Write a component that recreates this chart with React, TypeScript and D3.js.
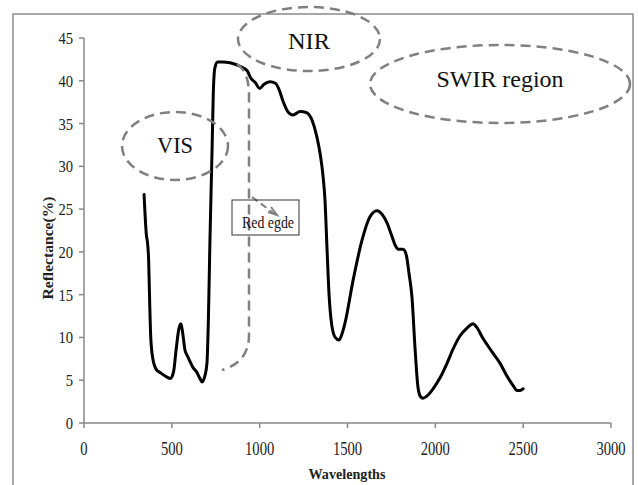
import React from "react";
import * as d3 from "d3";

const wavelengths = [342, 355, 362, 368, 374, 380, 392, 410, 440, 470, 492, 510, 524, 540, 552, 562, 575, 590, 603, 620, 640, 660, 672, 688, 700, 708, 717, 729, 736, 745, 760, 790, 831, 888, 928, 950, 975, 1000, 1025, 1059, 1090, 1110, 1133, 1160, 1190, 1230, 1265, 1300, 1325, 1344, 1360, 1372, 1383, 1395, 1410, 1430, 1452, 1470, 1486, 1532, 1583, 1628, 1668, 1700, 1725, 1750, 1771, 1790, 1816, 1835, 1850, 1867, 1884, 1901, 1915, 1930, 1960, 1987, 2030, 2067, 2100, 2141, 2180, 2215, 2235, 2271, 2320, 2368, 2410, 2442, 2465, 2482, 2500];
const reflectance = [26.7, 22, 21, 19, 14, 10, 7.5, 6.3, 5.8, 5.4, 5.2, 6, 8.5, 11, 11.6, 10.5, 8.5, 7.8, 7.2, 6.5, 6.0, 5.2, 4.8, 5.5, 7, 12, 21.4, 31.9, 38.5, 41.5, 42.2, 42.2, 42.1, 41.7, 41.2, 40.3, 39.8, 39.1, 39.6, 39.9, 39.7, 39.0, 37.6, 36.4, 36.0, 36.4, 36.3, 35.3, 33.5, 31.5, 29, 26, 20.6, 15, 11.5, 10.0, 9.7, 10.5, 11.7, 16.7, 21.4, 24.1, 24.8, 24.3, 23.4, 22, 20.8, 20.3, 20.3, 19.6, 17.5, 14.7, 8.9, 4.2, 3.1, 2.9, 3.3, 4.0, 5.4, 7.0, 8.6, 10.2, 11.1, 11.6, 11.2, 9.9, 8.4, 7.0, 5.4, 4.4, 3.8, 3.8, 4.0];
const xTicks = [0, 500, 1000, 1500, 2000, 2500, 3000];
const yTicks = [0, 5, 10, 15, 20, 25, 30, 35, 40, 45];
const xTitle = "Wavelengths";
const yTitle = "Reflectance(%)";
const regionLabels = ["VIS", "NIR", "SWIR region"];
const edgeLabel = "Red egde";

export default function App() {
  const W = 638, H = 485;
  const x = d3.scaleLinear().domain([0, 3000]).range([84, 611]);
  const y = d3.scaleLinear().domain([0, 45]).range([423, 38]);
  const pts: [number, number][] = wavelengths.map((w, i) => [w, reflectance[i]]);
  const line = d3.line<[number, number]>().x(d => x(d[0])).y(d => y(d[1])).curve(d3.curveMonotoneX);
  const axisColor = "#888";
  const dash = "#808080";
  const serif = "Liberation Serif, Times New Roman, serif";
  const ellipses = [
    { cx: 175, cy: 146, rx: 53, ry: 34, ty: 153, tl: 36 },
    { cx: 309, cy: 39, rx: 71, ry: 32, ty: 49, tl: 42 },
    { cx: 500, cy: 84, rx: 130, ry: 39, ty: 87, tl: 127 },
  ];
  const tf = { fontFamily: serif };
  return (
    <svg width={W} height={H} style={{ position: "absolute", left: 0, top: 0, background: "#fff", fontFamily: serif }}>
      <rect x={13} y={14} width={620} height={500} fill="#fff" stroke="#8a8a8a" strokeWidth={1.5} />
      {/* axes */}
      <line x1={x(0)} x2={x(0)} y1={y(45)} y2={y(0)} stroke={axisColor} strokeWidth={1.5} />
      <line x1={x(0)} x2={x(3000)} y1={y(0)} y2={y(0)} stroke={axisColor} strokeWidth={1.5} />
      {yTicks.map(t => (
        <g key={"y" + t}>
          <line x1={x(0) - 5} x2={x(0)} y1={y(t)} y2={y(t)} stroke={axisColor} strokeWidth={1.5} />
          <text x={73} y={y(t) + 6} textAnchor="end" fontSize={17} fill="#222" style={tf}
            textLength={String(t).length * 7.3} lengthAdjust="spacingAndGlyphs">{t}</text>
        </g>
      ))}
      {xTicks.map(t => (
        <g key={"x" + t}>
          <line x1={x(t)} x2={x(t)} y1={y(0)} y2={y(0) + 5} stroke={axisColor} strokeWidth={1.5} />
          <text x={x(t)} y={455} textAnchor="middle" fontSize={18.5} fill="#222" style={tf}
            textLength={String(t).length * 7.3} lengthAdjust="spacingAndGlyphs">{t}</text>
        </g>
      ))}
      <text x={347} y={479} textAnchor="middle" fontSize={15} fontWeight="bold" fill="#222" style={tf}
        textLength={77} lengthAdjust="spacingAndGlyphs">{xTitle}</text>
      <text transform="translate(53,248) rotate(-90)" textAnchor="middle" fontSize={15} fontWeight="bold" fill="#222" style={tf}
        textLength={103} lengthAdjust="spacingAndGlyphs">{yTitle}</text>
      {/* curve */}
      <path d={line(pts) || ""} fill="none" stroke="#000" strokeWidth={3} strokeLinejoin="round" strokeLinecap="round" />
      {/* region ellipses */}
      {ellipses.map((e, i) => (
        <g key={"e" + i}>
          <ellipse cx={e.cx} cy={e.cy} rx={e.rx} ry={e.ry} fill="none" stroke={dash} strokeWidth={2.5} strokeDasharray="10,6" />
          <text x={e.cx} y={e.ty} textAnchor="middle" fontSize={23} fill="#111" style={tf}
            textLength={e.tl} lengthAdjust="spacingAndGlyphs">{regionLabels[i]}</text>
        </g>
      ))}
      {/* red edge bracket */}
      <path d="M237,64 Q249,72 249,95 L249,335 Q249,362 222,370" fill="none" stroke={dash} strokeWidth={2.5} strokeDasharray="10,6" />
      <path d="M252,197 L276,215" fill="none" stroke={dash} strokeWidth={2} strokeDasharray="7,4" />
      <path d="M268,212 L277,215 L271,207" fill="none" stroke={dash} strokeWidth={2} />
      <rect x={232} y={200} width={67} height={35} fill="none" stroke="#333" strokeWidth={1} />
      <text x={268} y={228} textAnchor="middle" fontSize={17} fill="#111" style={tf}
        textLength={52} lengthAdjust="spacingAndGlyphs">{edgeLabel}</text>
    </svg>
  );
}
